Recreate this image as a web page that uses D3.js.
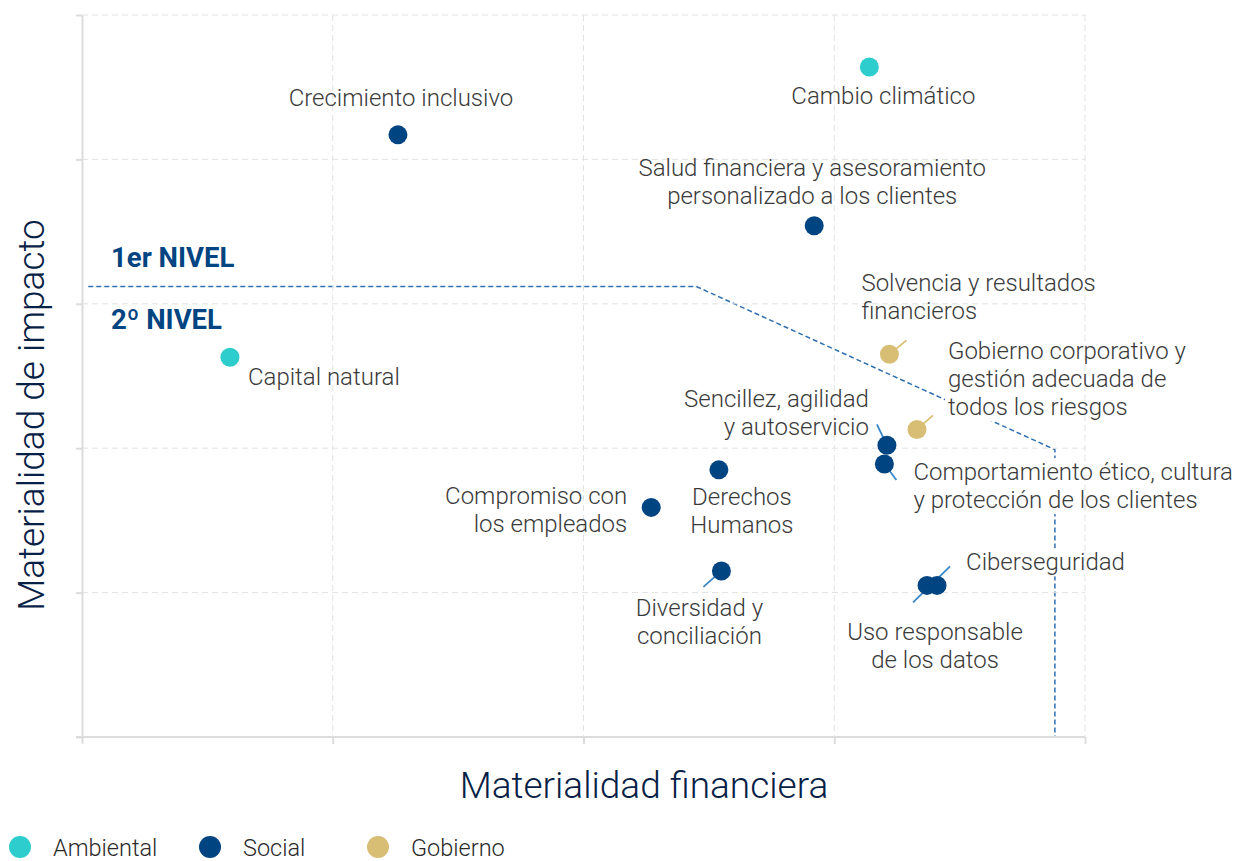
<!DOCTYPE html>
<html>
<head>
  <script src="https://d3js.org/d3.v7.min.js"></script>
  <style>
    body { margin: 0; background: #fff; }
    svg { display: block; font-family: 'Roboto', sans-serif; }
    .lbl { font-size: 24px; font-weight: 300; fill: #3a3a3a; }
  </style>
</head>
<body>
  <svg width="1240" height="861"></svg>
<script>
  // data: financial materiality (x, 0-4) vs impact materiality (y, 0-5)
  var topics = ["Cambio climático", "Crecimiento inclusivo", "Salud financiera y asesoramiento|personalizado a los clientes",
    "Capital natural", "Solvencia y resultados|financieros", "Gobierno corporativo y|gestión adecuada de|todos los riesgos",
    "Sencillez, agilidad|y autoservicio", "Comportamiento ético, cultura|y protección de los clientes", "Derechos|Humanos",
    "Compromiso con|los empleados", "Diversidad y|conciliación", "Ciberseguridad", "Uso responsable|de los datos"];
  var financial = [3.14, 1.26, 2.92, 0.59, 3.22, 3.33, 3.21, 3.20, 2.54, 2.27, 2.55, 3.41, 3.37];
  var impact = [4.64, 4.17, 3.54, 2.63, 2.65, 2.13, 2.02, 1.89, 1.85, 1.59, 1.15, 1.05, 1.05];
  var group = ["Ambiental", "Social", "Social", "Ambiental", "Gobierno", "Gobierno", "Social", "Social", "Social",
    "Social", "Social", "Social", "Social"];
  var groups = ["Ambiental", "Social", "Gobierno"];
  var xTicks = [0, 1, 2, 3, 4];
  var yTicks = [0, 1, 2, 3, 4, 5];
  // threshold between 1er and 2º nivel
  var thresholdX = [0.025, 2.45, 3.88, 3.88];
  var thresholdY = [3.12, 3.12, 1.99, 0];

  // label placement (pixel offsets from the dot), anchor, leader line
  var labelDx = [14, 3, -2, 18, -28, 31, -18, 29, 23, -24, -22, 29, 8];
  var labelDy = [37, -29, -50, 28, -63, -70, -38, 16, 35, -3, 45, -15, 55];
  var labelAnchor = ["middle", "middle", "middle", "start", "start", "start", "end", "start", "middle", "end", "middle", "start", "middle"];
  var leaders = [null, null, null, null, [0, 0, 17, -14], [0, 0, 16, -14], [-10, -21, 0, 0], [0, 0, 12, 16],
    null, null, [0, 0, -18, 16], null, [-14, 17, 23, -19]];

  var svg = d3.select("svg");
  var color = d3.scaleOrdinal().domain(groups).range(["#2dcccd", "#004481", "#d8be75"]);
  var x = d3.scaleLinear().domain([0, 4]).range([82, 1085]);
  var y = d3.scaleLinear().domain([0, 5]).range([737, 15]);

  var bgLayer = svg.append("g");
  var maskLayer = svg.append("g");
  var gridLayer = svg.append("g");
  var markLayer = svg.append("g");

  // threshold line
  bgLayer.append("path")
    .datum(d3.range(thresholdX.length))
    .attr("d", d3.line().x(function (i) { return x(thresholdX[i]); }).y(function (i) { return y(thresholdY[i]); }))
    .attr("fill", "none").attr("stroke", "#2f6fb0").attr("stroke-width", 1.5).attr("stroke-dasharray", "5,3");

  // gridlines
  gridLayer.selectAll(".vg").data(xTicks.slice(1)).enter().append("line")
    .attr("x1", function (d) { return x(d); }).attr("x2", function (d) { return x(d); })
    .attr("y1", y(5)).attr("y2", y(0))
    .attr("stroke", "#e2e2e2").attr("stroke-dasharray", "6,4");
  gridLayer.selectAll(".hg").data(yTicks.slice(1)).enter().append("line")
    .attr("x1", x(0)).attr("x2", x(4))
    .attr("y1", function (d) { return y(d); }).attr("y2", function (d) { return y(d); })
    .attr("stroke", "#e2e2e2").attr("stroke-dasharray", "6,4");

  // axes
  var xAxis = gridLayer.append("g").attr("transform", "translate(0," + y(0) + ")")
    .call(d3.axisBottom(x).tickValues(xTicks).tickSize(7).tickSizeOuter(0).tickFormat(""));
  var yAxis = gridLayer.append("g").attr("transform", "translate(" + x(0) + ",0)")
    .call(d3.axisLeft(y).tickValues(yTicks).tickSize(6).tickSizeOuter(0).tickFormat(""));
  [xAxis, yAxis].forEach(function (a) {
    a.selectAll("path, line").attr("stroke", "#dcdcdc").attr("stroke-width", 2);
  });
  xAxis.select(".domain").attr("d", "M" + (x(0) - 6) + ",0H" + x(4));

  // leader lines
  markLayer.selectAll(".leader").data(d3.range(topics.length).filter(function (i) { return leaders[i]; }))
    .enter().append("line")
    .attr("x1", function (i) { return x(financial[i]) + leaders[i][0]; })
    .attr("y1", function (i) { return y(impact[i]) + leaders[i][1]; })
    .attr("x2", function (i) { return x(financial[i]) + leaders[i][2]; })
    .attr("y2", function (i) { return y(impact[i]) + leaders[i][3]; })
    .attr("stroke", function (i) { return group[i] === "Gobierno" ? "#d8be75" : "#3a86c8"; })
    .attr("stroke-width", 1.8);

  // dots
  markLayer.selectAll(".dot").data(d3.range(topics.length)).enter().append("circle")
    .attr("cx", function (i) { return x(financial[i]); })
    .attr("cy", function (i) { return y(impact[i]); })
    .attr("r", 9.5)
    .attr("fill", function (i) { return color(group[i]); });

  // labels
  topics.forEach(function (t, i) {
    var txt = markLayer.append("text").attr("class", "lbl")
      .attr("text-anchor", labelAnchor[i]);
    t.split("|").forEach(function (line, k) {
      txt.append("tspan")
        .attr("x", x(financial[i]) + labelDx[i])
        .attr("y", y(impact[i]) + labelDy[i] + k * 28)
        .text(line);
    });
    var bb = txt.node().getBBox();
    maskLayer.append("rect")
      .attr("x", bb.x - 3).attr("y", bb.y).attr("width", bb.width + 6).attr("height", bb.height)
      .attr("fill", "#fff");
  });

  // level labels
  svg.append("text").attr("x", 111).attr("y", 267).text("1er NIVEL")
    .attr("font-size", 27.5).attr("font-weight", 700).attr("fill", "#004481");
  svg.append("text").attr("x", 111).attr("y", 329).text("2º NIVEL")
    .attr("font-size", 27.5).attr("font-weight", 700).attr("fill", "#004481");

  // axis titles
  svg.append("text").attr("x", 644).attr("y", 798)
    .attr("text-anchor", "middle").attr("font-size", 37).attr("font-weight", 300).attr("fill", "#072146")
    .text("Materialidad financiera");
  svg.append("text").attr("transform", "translate(44,415) rotate(-90)")
    .attr("text-anchor", "middle").attr("font-size", 37).attr("font-weight", 300).attr("fill", "#072146")
    .text("Materialidad de impacto");

  // legend
  var legendX = [20, 210, 378];
  var leg = svg.selectAll(".leg").data(groups).enter().append("g")
    .attr("transform", function (d, i) { return "translate(" + legendX[i] + ",847)"; });
  leg.append("circle").attr("r", 11).attr("fill", function (d) { return color(d); });
  leg.append("text").attr("x", 33).attr("y", 9).attr("font-size", 23.5).attr("font-weight", 300)
    .attr("fill", "#2a2a2a").text(function (d) { return d; });
</script>
</body>
</html>
